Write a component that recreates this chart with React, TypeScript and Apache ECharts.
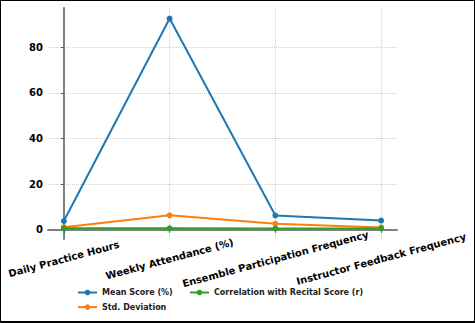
import React, { useEffect, useRef } from "react";
import * as echarts from "echarts";

const categories = [
  "Daily Practice Hours",
  "Weekly Attendance (%)",
  "Ensemble Participation Frequency",
  "Instructor Feedback Frequency",
];
const meanScore = [3.9, 92.6, 6.3, 4.1];
const stdDeviation = [1.2, 6.4, 2.7, 1.1];
const correlation = [0.72, 0.68, 0.61, 0.65];
const yTicks = [0, 20, 40, 60, 80];
const seriesNames = ["Mean Score (%)", "Std. Deviation", "Correlation with Recital Score (r)"];
const colors = ["#1f77b4", "#ff7f0e", "#2ca02c"];

export default function App() {
  const ref = useRef<HTMLDivElement>(null);
  useEffect(() => {
    if (!ref.current) return;
    const chart = echarts.init(ref.current, undefined, { renderer: "svg" });
    const all = [...meanScore, ...stdDeviation, ...correlation];
    const lo = Math.min(...all);
    const hi = Math.max(...all);
    const pad = (hi - lo) * 0.05;
    const xPad = (categories.length - 1) * 0.05;
    const toPts = (arr: number[]) => arr.map((v, i) => [i, v]);
    const font = "DejaVu Sans";
    const mk = (name: string, data: number[], color: string) => ({
      name,
      type: "line",
      data: toPts(data),
      symbol: "circle",
      symbolSize: 6,
      lineStyle: { width: 2, color },
      itemStyle: { color },
      color,
    });
    const legendBase = {
      orient: "vertical",
      top: 288.5,
      padding: 0,
      itemWidth: 19,
      itemHeight: 7,
      itemGap: 6.6,
      textStyle: { fontFamily: font, fontWeight: "bold", fontSize: 8, color: "#222" },
    };
    chart.setOption({
      animation: false,
      grid: { left: 48, right: 78, top: 8, bottom: 84, containLabel: false },
      xAxis: {
        type: "value",
        min: -xPad,
        max: categories.length - 1 + xPad,
        axisLine: { show: true, lineStyle: { color: "#808080", width: 2 } },
        axisTick: {
          show: true,
          length: 3,
          lineStyle: { color: "#555", width: 1 },
          customValues: categories.map((_, i) => i),
        },
        axisLabel: {
          customValues: categories.map((_, i) => i),
          formatter: (v: number) => categories[Math.round(v)] ?? "",
          rotate: 15,
          align: "center",
          verticalAlign: "middle",
          margin: 20,
          fontFamily: font,
          fontWeight: "bold",
          fontSize: 10,
          color: "#000",
        },
        splitLine: { show: true, lineStyle: { type: "dotted", color: "#d0d0d0", width: 1 } },
      },
      yAxis: {
        type: "value",
        min: lo - pad,
        max: hi + pad,
        axisLine: { show: true, lineStyle: { color: "#808080", width: 2 } },
        axisTick: {
          show: true,
          length: 3,
          lineStyle: { color: "#555", width: 1 },
          customValues: yTicks,
        },
        axisLabel: {
          customValues: yTicks,
          margin: 5,
          fontFamily: font,
          fontWeight: "bold",
          fontSize: 10,
          color: "#000",
        },
        splitLine: { show: true, lineStyle: { type: "dotted", color: "#d0d0d0", width: 1 } },
      },
      legend: [
        { ...legendBase, data: [seriesNames[0], seriesNames[1]], left: 77 },
        { ...legendBase, data: [seriesNames[2]], left: 189 },
      ],
      series: [
        mk(seriesNames[0], meanScore, colors[0]),
        mk(seriesNames[1], stdDeviation, colors[1]),
        mk(seriesNames[2], correlation, colors[2]),
      ],
    });
    return () => chart.dispose();
  }, []);
  return (
    <div style={{ position: "absolute", left: 0, top: 0, width: 475, height: 323, background: "#fff" }}>
      <div ref={ref} style={{ position: "absolute", left: 0, top: 0, width: 475, height: 323 }} />
      <div
        style={{
          position: "absolute",
          left: 0,
          top: 0,
          width: 475,
          height: 323,
          boxSizing: "border-box",
          borderTop: "1px solid #000",
          borderLeft: "1px solid #000",
          borderRight: "1px solid #000",
          borderBottom: "2px solid #000",
          pointerEvents: "none",
        }}
      />
    </div>
  );
}
